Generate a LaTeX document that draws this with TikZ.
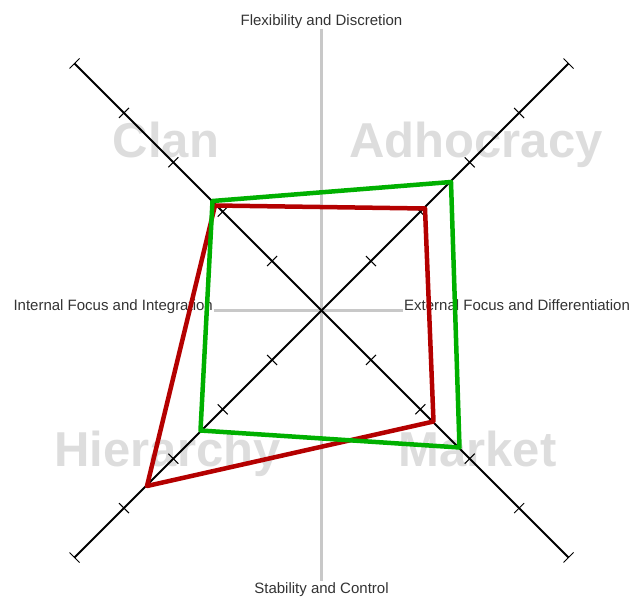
\documentclass[tikz,border=0pt]{standalone}
\usepackage{fontspec}
\setmainfont{Liberation Sans}
\definecolor{axisgray}{HTML}{C8C8C8}
\definecolor{biggray}{HTML}{DDDDDD}
\definecolor{txtgray}{HTML}{333333}
\definecolor{redline}{HTML}{B40000}
\definecolor{greenline}{HTML}{00B000}
\tikzset{
  axislabel/.style={font=\fontsize{15}{17}\selectfont, text=txtgray, inner sep=1pt},
  quadlabel/.style={font=\fontsize{49}{55}\selectfont\bfseries, text=biggray, inner sep=0pt, anchor=base},
  guide/.style={draw=axisgray, line width=2.2pt},
  diag/.style={draw=black, line width=1.8pt},
  tickmark/.style={draw=black, line width=1pt},
  series/.style={line width=4.5pt, line join=round}
}
\begin{document}
\begin{tikzpicture}[x=1pt,y=-1pt]
\useasboundingbox (0,0) rectangle (629,597);
% axis labels
\node[axislabel, anchor=base] (top) at (321.5,25) {Flexibility and Discretion};
\node[axislabel, anchor=base] (bottom) at (321.5,593) {Stability and Control};
\node[axislabel, anchor=base east] (left) at (214,310.5) {Internal Focus and Integration};
\node[axislabel, anchor=base west] (right) at (403,310.5) {External Focus and Differentiation};
% guide lines
\draw[guide] (top.south) -- (bottom.north);
\draw[guide] (left.base east) -- (right.base west);
% quadrant labels
\node[quadlabel] (clan) at (166,157) {Clan};
\node[quadlabel] (adho) at (476,157) {Adhocracy};
\node[quadlabel] (hier) at (167.5,466) {Hierarchy};
\node[quadlabel] (mark) at (477.5,466) {Market};
% diagonal axes
\coordinate (O) at (321.5,310.5);
\coordinate (TL) at (74.5,63.5);
\coordinate (TR) at (568.5,63.5);
\coordinate (BL) at (74.5,557.5);
\coordinate (BR) at (568.5,557.5);
\draw[diag] (TL) -- (BR);
\draw[diag] (TR) -- (BL);
\foreach \sx/\sy in {-1/-1,1/-1,-1/1,1/1}{
  \foreach \k in {1,...,5}{
    \draw[tickmark] ({321.5+\k*49.4*\sx+5*\sy},{310.5+\k*49.4*\sy-5*\sx}) -- ++({-10*\sy},{10*\sx});
  }
}
% data series
\coordinate (r1) at (215,205.5);
\coordinate (r2) at (425,208.5);
\coordinate (r3) at (433.5,421.5);
\coordinate (r4) at (147,486);
\coordinate (g1) at (212.5,201);
\coordinate (g2) at (451,182);
\coordinate (g3) at (459.5,447.5);
\coordinate (g4) at (200.5,430.5);
\draw[series, draw=redline] (r1) -- (r2) -- (r3) -- (r4) -- cycle;
\draw[series, draw=greenline] (g1) -- (g2) -- (g3) -- (g4) -- cycle;
\end{tikzpicture}
\end{document}
